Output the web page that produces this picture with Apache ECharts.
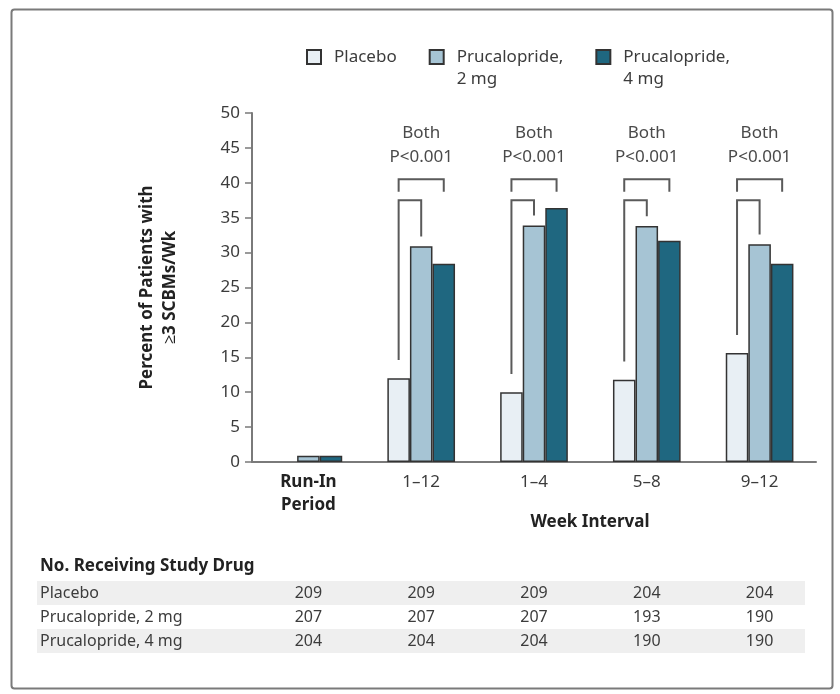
<!DOCTYPE html>
<html>
<head>
<meta charset="utf-8">
<script src="https://cdn.jsdelivr.net/npm/echarts@6/dist/echarts.min.js"></script>
<style>html,body{margin:0;padding:0;background:#fff}#c{width:840px;height:694px}</style>
</head>
<body>
<div id="c"></div>
<script>
// ---- data ----
const categories = ['Run-In\nPeriod', '1–12', '1–4', '5–8', '9–12'];
const seriesNames = ['Placebo', 'Prucalopride, 2 mg', 'Prucalopride, 4 mg'];
const placebo = [0, 12.0, 10.0, 11.8, 15.6];
const pru2mg = [0.9, 30.9, 33.9, 33.8, 31.2];
const pru4mg = [0.9, 28.4, 36.4, 31.7, 28.4];
const sigLabels = ['', 'Both\nP<0.001', 'Both\nP<0.001', 'Both\nP<0.001', 'Both\nP<0.001'];
const yTicks = [0, 5, 10, 15, 20, 25, 30, 35, 40, 45, 50];
const tableTitle = 'No. Receiving Study Drug';
const tableRows = ['Placebo', 'Prucalopride, 2 mg', 'Prucalopride, 4 mg'];
const nPlacebo = [209, 209, 209, 204, 204];
const nPru2mg = [207, 207, 207, 193, 190];
const nPru4mg = [204, 204, 204, 190, 190];

// ---- styles ----
const FONT = 'Noto Sans';
const TXT = '#3c3c3c';
const AX = '#7a7a7a';
const fills = ['#e8eff4', '#a6c4d4', '#1f6780'];
const CAT_GAP = 0.4;

const chart = echarts.init(document.getElementById('c'), null, {renderer: 'canvas'});

const barSeries = [placebo, pru2mg, pru4mg].map((d, i) => ({
  name: seriesNames[i],
  type: 'bar',
  data: d.map(v => v === 0 ? {value: v, itemStyle: {borderWidth: 0, opacity: 0}} : v),
  barGap: '0%',
  barCategoryGap: (CAT_GAP * 100) + '%',
  itemStyle: {color: fills[i], borderColor: '#333', borderWidth: 1.5},
  emphasis: {disabled: true},
  z: 2
}));

const sigData = categories.map((c, i) => [i, placebo[i], pru2mg[i], pru4mg[i], sigLabels[i]]).filter(d => d[4]);

const bracketSeries = {
  type: 'custom',
  data: sigData,
  z: 5,
  silent: true,
  renderItem: function (params, api) {
    const idx = api.value(0);
    const pl = api.value(1), p2 = api.value(2);
    const center = api.coord([idx, 0]);
    const band = api.size([1, 0])[0];
    const bw = band * (1 - CAT_GAP) / 3;
    const xP = center[0] - bw, x2 = center[0], x4 = center[0] + bw;
    const y = v => api.coord([idx, v])[1];
    const st = {stroke: '#5a5a5a', lineWidth: 2, fill: null};
    const lbl = sigData[params.dataIndex][4];
    return {
      type: 'group',
      children: [
        {type: 'polyline', shape: {points: [[xP, y(38.7)], [xP, y(40.5)], [x4, y(40.5)], [x4, y(38.7)]]}, style: st},
        {type: 'polyline', shape: {points: [[xP, y(pl + 2.6)], [xP, y(37.5)], [x2, y(37.5)], [x2, y(p2 + 1.4)]]}, style: st},
        {type: 'text', style: {text: lbl, x: center[0], y: y(42), align: 'center', verticalAlign: 'bottom',
          font: '17px "' + FONT + '"', lineHeight: 24, fill: '#4a4a4a'}}
      ]
    };
  }
};

function tableAxis(vals, offset) {
  return {
    type: 'category', data: categories, position: 'bottom', offset: offset,
    axisLine: {show: false}, axisTick: {show: false}, splitLine: {show: false},
    axisLabel: {margin: 0, verticalAlign: 'middle', color: TXT, fontFamily: FONT, fontSize: 16,
      formatter: (v, i) => String(vals[i])}
  };
}

const option = {
  animation: false,
  backgroundColor: '#fff',
  textStyle: {fontFamily: FONT},
  grid: {left: 252, right: 24, top: 113, bottom: 232, containLabel: false},
  legend: {
    data: seriesNames,
    left: 306, top: 24, padding: 0,
    itemWidth: 14, itemHeight: 14, itemGap: 32,
    icon: 'rect',
    selectedMode: false,
    formatter: n => n === 'Placebo' ? ' \nPlacebo\n ' : ' \n' + n.replace(', ', ',\n'),
    textStyle: {fontFamily: FONT, fontSize: 17, color: TXT, lineHeight: 22, padding: [0, 0, 0, 8]}
  },
  xAxis: [
    {
      type: 'category', data: categories,
      axisLine: {show: true, lineStyle: {color: AX, width: 2}},
      axisTick: {show: false},
      axisLabel: {
        margin: 9, color: TXT, fontFamily: FONT, fontSize: 17, lineHeight: 23,
        formatter: v => v.indexOf('\n') >= 0 ? v.split('\n').map(s => '{b|' + s + '}').join('\n') : v,
        rich: {b: {fontWeight: 'bold', fontFamily: FONT, fontSize: 17, lineHeight: 23, color: '#222'}}
      },
      name: 'Week Interval', nameLocation: 'middle', nameGap: 52, nameMoveOverlap: false,
      nameTextStyle: {fontFamily: FONT, fontSize: 17, fontWeight: 'bold', color: '#222', padding: [0, 0, 0, 112]}
    },
    tableAxis(nPlacebo, 131),
    tableAxis(nPru2mg, 155),
    tableAxis(nPru4mg, 179)
  ],
  yAxis: {
    type: 'value', min: 0, max: 50, interval: 5,
    axisLine: {show: true, lineStyle: {color: AX, width: 2}},
    axisTick: {show: true, length: 7, lineStyle: {color: AX, width: 1.5}},
    splitLine: {show: false},
    axisLabel: {margin: 12, color: TXT, fontFamily: FONT, fontSize: 17,
      formatter: v => yTicks.indexOf(v) >= 0 ? String(v) : ''},
    name: 'Percent of Patients with\n≥3 SCBMs/Wk',
    nameLocation: 'middle', nameRotate: 90, nameGap: 70,
    nameTextStyle: {fontFamily: FONT, fontSize: 17, fontWeight: 'bold', color: '#222', lineHeight: 23}
  },
  graphic: [
    {type: 'rect', left: 9, top: 7, shape: {width: 821, height: 679, r: 3}, style: {fill: null, stroke: '#7a7a7a', lineWidth: 2}, z: -10},
    {type: 'rect', left: 37, top: 581, shape: {width: 768, height: 24}, style: {fill: '#efefef'}, z: -5},
    {type: 'rect', left: 37, top: 629, shape: {width: 768, height: 24}, style: {fill: '#efefef'}, z: -5},
    {type: 'text', left: 40, top: 558, style: {text: tableTitle, font: 'bold 17px "' + FONT + '"', fill: '#222'}},
    {type: 'text', left: 40, top: 585, style: {text: tableRows[0], font: '16px "' + FONT + '"', fill: TXT}},
    {type: 'text', left: 40, top: 609, style: {text: tableRows[1], font: '16px "' + FONT + '"', fill: TXT}},
    {type: 'text', left: 40, top: 633, style: {text: tableRows[2], font: '16px "' + FONT + '"', fill: TXT}}
  ],
  series: barSeries.concat([bracketSeries])
};

chart.setOption(option);
</script>
</body>
</html>
